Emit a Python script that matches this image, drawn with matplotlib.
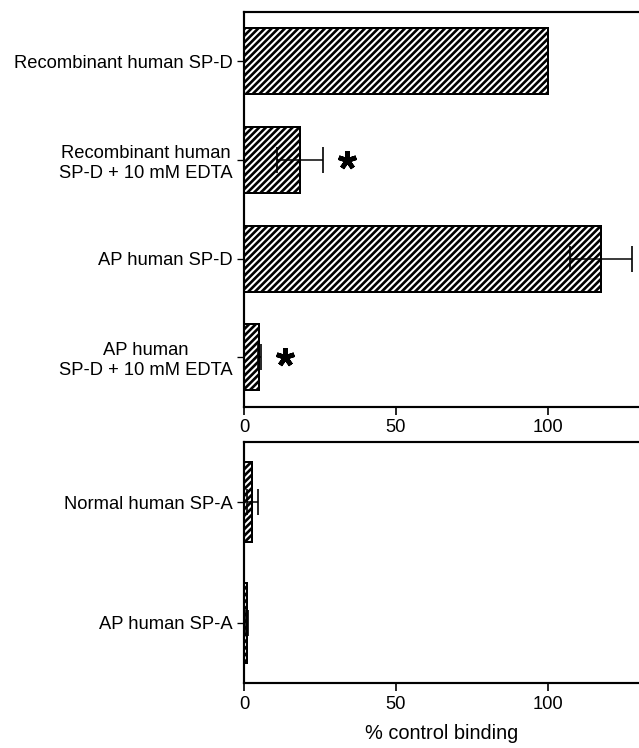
import matplotlib.pyplot as plt
import numpy as np

plt.rcParams['font.family'] = ['Liberation Sans', 'DejaVu Sans']
plt.rcParams['hatch.linewidth'] = 1.6

# top panel: SP-D
spd_labels = ['Recombinant human SP-D',
              'Recombinant human\nSP-D + 10 mM EDTA',
              'AP human SP-D',
              'AP human\nSP-D + 10 mM EDTA']
spd_values = [100, 18.5, 117.5, 5.0]
spd_errors = [0, 7.5, 10.2, 0.5]
spd_star = [False, True, False, True]
star_x = [33.8, 13.5]

# bottom panel: SP-A
spa_labels = ['Normal human SP-A', 'AP human SP-A']
spa_values = [2.7, 1.0]
spa_errors = [1.8, 0.3]

xticks = [0, 50, 100]

fig = plt.figure(figsize=(639 / 120, 748 / 120), dpi=120)
ax1 = fig.add_axes([0.3818, 0.4563, 0.6182, 0.5277])
ax2 = fig.add_axes([0.3818, 0.0865, 0.6182, 0.3230])


def draw_panel(ax, labels, values, errors):
    y = np.arange(len(labels))
    ax.barh(y, values, height=0.667, color='white', edgecolor='black',
            linewidth=1.2, hatch='//////', zorder=2)
    ax.errorbar(values, y, xerr=errors, fmt='none', ecolor='black',
                elinewidth=0.9, capsize=8, capthick=1.0, zorder=3)
    ax.set_yticks(y)
    ax.set_yticklabels(labels, fontsize=11, multialignment='center')
    ax.set_ylim(len(labels) - 0.5, -0.5)
    ax.set_xlim(0, 130)
    ax.set_xticks(xticks)
    ax.tick_params(axis='x', labelsize=11, length=4.5, width=1.0, pad=3)
    ax.tick_params(axis='y', length=4, width=0.8, pad=3)
    ax.spines['right'].set_visible(False)
    for s in ['left', 'top', 'bottom']:
        ax.spines[s].set_linewidth(1.3)
    return y


y1 = draw_panel(ax1, spd_labels, spd_values, spd_errors)
star_y = [yy for yy, s in zip(y1, spd_star) if s]
ax1.plot(star_x, star_y, linestyle='none', marker=(5, 2, 0), markersize=11,
         markeredgewidth=2.8, color='black', zorder=4)

draw_panel(ax2, spa_labels, spa_values, spa_errors)
ax2.set_xlabel('% control binding', fontsize=12, labelpad=7)

fig.savefig('out.png', dpi=120)
